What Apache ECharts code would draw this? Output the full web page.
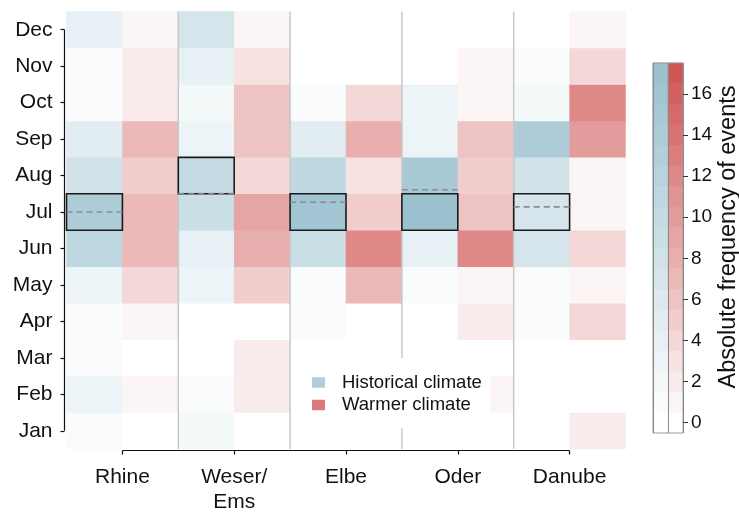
<!DOCTYPE html>
<html>
<head>
<meta charset="utf-8">
<script src="https://cdn.jsdelivr.net/npm/echarts@6/dist/echarts.min.js"></script>
<style>html,body{margin:0;padding:0;background:#fff;}#c{width:739px;height:512px;}</style>
</head>
<body>
<div id="c"></div>
<script>
// ---- data (months Jan..Dec) ----
const months = ['Jan','Feb','Mar','Apr','May','Jun','Jul','Aug','Sep','Oct','Nov','Dec'];
const rivers = ['Rhine','Weser/\nEms','Elbe','Oder','Danube'];
const rhineHist  = [1,3,1,1,3,11,14,8,5,1,1,4];
const rhineWarm  = [0,1,0,1,4,7,7,5,7,2,2,1];
const weserHist  = [2,1,0,0,3,4,9,10,3,2,4,7];
const weserWarm  = [0,2,2,0,5,8,9,4,6,6,3,1];
const elbeHist   = [0,0,0,1,1,9,16,11,5,1,0,0];
const elbeWarm   = [0,0,0,0,7,12,5,3,8,4,0,0];
const oderHist   = [0,0,0,0,1,4,17,15,3,3,0,0];
const oderWarm   = [0,1,0,2,1,12,6,5,6,1,1,0];
const danubeHist = [0,0,0,1,1,7,7,8,14,2,1,0];
const danubeWarm = [2,0,0,4,1,4,1,1,10,12,4,1];
const boxMonth   = ['Jul','Aug','Jul','Jul','Jul'];
const meanMonth  = [7.0, 7.51, 7.27, 7.61, 7.14];
const cbLevels   = ['0','1','2','3','4','5','6','7','8','9','10','11','12','13','14','15','16','17'];
const legendNames = ['Historical climate','Warmer climate'];

const histByRiver = [rhineHist, weserHist, elbeHist, oderHist, danubeHist];
const warmByRiver = [rhineWarm, weserWarm, elbeWarm, oderWarm, danubeWarm];
const cols = [];
rivers.forEach((r,i)=>{cols.push(r+' hist'); cols.push(r+' warm');});

const histData = [], warmData = [];
histByRiver.forEach((arr,r)=>arr.forEach((v,m)=>histData.push([2*r, m, v])));
warmByRiver.forEach((arr,r)=>arr.forEach((v,m)=>warmData.push([2*r+1, m, v])));
const boxData = boxMonth.map((m,r)=>[2*r, months.indexOf(m)]);
const dashData = meanMonth.map((m,r)=>[2*r, m]);
const sepData = [[1,0],[3,0],[5,0],[7,0]];
const cbBlue = cbLevels.map((l,k)=>[0,k,+l]);
const cbRed = cbLevels.map((l,k)=>[1,k,+l]);

const FONT = 'Liberation Sans';
const BLUE = '#9bc1cf', RED = '#d05656';

const chart = echarts.init(document.getElementById('c'), null, {renderer:'canvas'});
chart.setOption({
  animation: false,
  backgroundColor: '#fff',
  textStyle: {fontFamily: FONT},
  grid: [
    {left: 66.5, right: 113.5, top: 11.5, bottom: 63, outerBoundsMode: 'none', containLabel: false},
    {left: 653, width: 30, top: 63, height: 370, outerBoundsMode: 'none', containLabel: false,
     show: true, borderColor: '#9a9a9a', borderWidth: 1, backgroundColor: 'transparent'}
  ],
  xAxis: [
    {type:'category', gridIndex:0, data: cols, show:false},
    {type:'category', gridIndex:0, data: rivers, position:'bottom', offset:1.5,
     axisLine:{show:false},
     axisTick:{show:true, alignWithLabel:true, length:4, lineStyle:{color:'#111', width:1.2}},
     axisLabel:{fontSize:21, color:'#111', margin:14, lineHeight:25, fontFamily:FONT},
     splitLine:{show:false}},
    {type:'category', gridIndex:1, data:['h','w'],
     axisLine:{show:false}, axisTick:{show:false}, axisLabel:{show:false},
     splitLine:{show:true, interval:0, lineStyle:{color:'#8a8a8a', width:1}}}
  ],
  yAxis: [
    {type:'category', gridIndex:0, data: months, offset:2,
     axisLine:{show:false},
     axisTick:{show:true, alignWithLabel:true, length:4, lineStyle:{color:'#111', width:1.2}},
     axisLabel:{fontSize:21, color:'#111', margin:12, fontFamily:FONT},
     splitLine:{show:false}},
    {type:'category', gridIndex:1, data: cbLevels, position:'right',
     axisLine:{show:false},
     axisTick:{show:true, alignWithLabel:true, length:5, interval:(i)=>i%2===0, lineStyle:{color:'#333', width:1}},
     axisLabel:{fontSize:19, color:'#111', margin:8, interval:(i)=>i%2===0, fontFamily:FONT},
     splitLine:{show:false},
     name:'Absolute frequency of events', nameLocation:'middle', nameRotate:90, nameGap:34,
     nameTextStyle:{fontSize:23.5, color:'#111', fontFamily:FONT, padding:[0,0,0,22]}}
  ],
  visualMap: [
    {type:'continuous', show:false, min:0, max:17, dimension:2, seriesIndex:[0,8], inRange:{color:['#ffffff', BLUE]}},
    {type:'continuous', show:false, min:0, max:17, dimension:2, seriesIndex:[1,9], inRange:{color:['#ffffff', RED]}}
  ],
  legend: {
    data: legendNames, orient:'vertical', left: 302, top: 358,
    backgroundColor:'#ffffff', padding:[15, 8, 14, 10], itemGap: 3.5,
    icon:'rect', itemWidth:13, itemHeight:10.5, selectedMode:false,
    textStyle:{fontSize:18.5, color:'#111', fontFamily:FONT, padding:[0,0,0,12]}
  },
  series: [
    {type:'heatmap', name:'hist', xAxisIndex:0, yAxisIndex:0, data: histData, emphasis:{disabled:true}},
    {type:'heatmap', name:'warm', xAxisIndex:0, yAxisIndex:0, data: warmData, emphasis:{disabled:true}},
    {type:'custom', name:'sep', xAxisIndex:0, yAxisIndex:0, data: sepData, z:3, silent:true, clip:false,
     renderItem:(params, api)=>{
       const c = api.coord([api.value(0), api.value(1)]);
       const s = api.size([1,1]);
       const cs = params.coordSys;
       const x = c[0] + s[0]/2;
       return {type:'line', shape:{x1:x, y1:cs.y, x2:x, y2:cs.y+cs.height},
               style:{stroke:'#c8c8c8', lineWidth:1.5}};
     }},
    {type:'custom', name:'box', xAxisIndex:0, yAxisIndex:0, data: boxData, z:5, silent:true, clip:false,
     renderItem:(params, api)=>{
       const c = api.coord([api.value(0), api.value(1)]);
       const s = api.size([1,1]);
       return {type:'rect', shape:{x:c[0]-s[0]/2, y:c[1]-s[1]/2, width:s[0], height:s[1]},
               style:{fill:'none', stroke:'#1a1a1a', lineWidth:1.6}};
     }},
    {type:'custom', name:'dash', xAxisIndex:0, yAxisIndex:0, data: dashData, z:6, silent:true, clip:false,
     renderItem:(params, api)=>{
       const c = api.coord([api.value(0), 0]);
       const s = api.size([1,1]);
       const y = c[1] - (api.value(1)-1)*s[1];
       return {type:'line', shape:{x1:c[0]-s[0]/2, y1:y, x2:c[0]+s[0]/2, y2:y},
               style:{stroke:'#8c8c8c', lineWidth:1.6, lineDash:[6,4]}};
     }},
    {type:'custom', name:'frame', xAxisIndex:0, yAxisIndex:0, data: [[0,0]], z:6, silent:true, clip:false,
     renderItem:(params, api)=>{
       const cs = params.coordSys;
       const s = api.size([1,1]);
       const a = api.coord([0, 0]);
       const b = api.coord([8, 11]);
       const yb = cs.y + cs.height + 1.5;
       const xl = cs.x - 2;
       return {type:'group', children:[
         {type:'line', shape:{x1:a[0]+s[0]/2, y1:yb, x2:b[0]+s[0]/2, y2:yb}, style:{stroke:'#111', lineWidth:1.2}},
         {type:'line', shape:{x1:xl, y1:a[1], x2:xl, y2:b[1]}, style:{stroke:'#111', lineWidth:1.2}}
       ]};
     }},
    {type:'scatter', name: legendNames[0], xAxisIndex:0, yAxisIndex:0, data: [], itemStyle:{color:'#9cc2d0'}},
    {type:'scatter', name: legendNames[1], xAxisIndex:0, yAxisIndex:0, data: [], itemStyle:{color:'#d35a5a'}},
    {type:'heatmap', name:'cbBlue', xAxisIndex:2, yAxisIndex:1, data: cbBlue, z:-1, emphasis:{disabled:true}, silent:true},
    {type:'heatmap', name:'cbRed', xAxisIndex:2, yAxisIndex:1, data: cbRed, z:-1, emphasis:{disabled:true}, silent:true}
  ]
});
</script>
</body>
</html>
